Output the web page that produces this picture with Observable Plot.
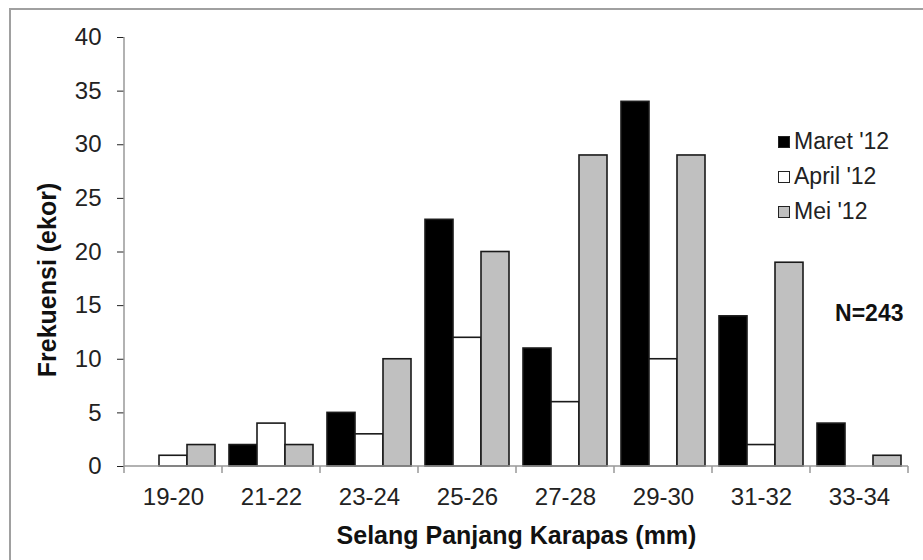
<!DOCTYPE html>
<html>
<head>
<meta charset="utf-8">
<script src="https://cdn.jsdelivr.net/npm/d3@7"></script>
<script src="https://cdn.jsdelivr.net/npm/@observablehq/plot@0.6"></script>
<style>
  html, body { margin: 0; padding: 0; background: #fff; }
  #wrap { position: relative; width: 923px; height: 560px; overflow: hidden;
          font-family: "Liberation Sans", Arial, sans-serif; }
  #border { position: absolute; left: 9px; top: 8px; width: 1000px; height: 1000px;
            border-left: 2px solid #a0a0a0; border-top: 2px solid #a0a0a0; }
  #chart { position: absolute; left: 0; top: 0; }
  #legend { position: absolute; left: 778px; top: 124px; font-size: 23px; color: #222; }
  #legend .row { height: 35px; line-height: 35px; display: flex; align-items: center; }
  #legend .sw { width: 10px; height: 10px; border: 1px solid #222; margin-right: 4px; }
</style>
</head>
<body>
<div id="wrap">
  <div id="border"></div>
  <div id="chart"></div>
  <div id="legend"></div>
</div>
<script>
const categories = ["19-20", "21-22", "23-24", "25-26", "27-28", "29-30", "31-32", "33-34"];
const seriesNames = ["Maret '12", "April '12", "Mei '12"];
const seriesColors = ["#000000", "#ffffff", "#c0c0c0"];
const maret = [0, 2, 5, 23, 11, 34, 14, 4];
const april = [1, 4, 3, 12, 6, 10, 2, 0];
const mei   = [2, 2, 10, 20, 29, 29, 19, 1];
const yTicks = [0, 5, 10, 15, 20, 25, 30, 35, 40];
const yTitle = "Frekuensi (ekor)";
const xTitle = "Selang Panjang Karapas (mm)";
const note = "N=243";

const seriesValues = [maret, april, mei];
const data = categories.flatMap((c, i) =>
  seriesNames.map((s, j) => ({cat: c, series: s, value: seriesValues[j][i]}))
).filter(d => d.value > 0);

const axisColor = "#999";

const chart = Plot.plot({
  width: 923,
  height: 560,
  marginLeft: 123,
  marginRight: 15,
  marginTop: 37,
  marginBottom: 94,
  style: {fontFamily: "'Liberation Sans', Arial, sans-serif", fontSize: "24px", color: "#222", background: "transparent"},
  fx: {domain: categories, padding: 0, axis: "bottom", tickSize: 0, tickPadding: 21, label: null},
  x: {domain: seriesNames, axis: null, paddingInner: 0, paddingOuter: 0.23},
  y: {domain: [0, 40], ticks: yTicks, tickSize: 7, tickPadding: 16, label: null},
  color: {domain: seriesNames, range: seriesColors},
  marks: [
    Plot.barY(data, {fx: "cat", x: "series", y: "value", fill: "series", stroke: "#1a1a1a", strokeWidth: 1.6}),
    Plot.frame({
      facet: "super",
      render: (index, scales, values, dims) => {
        const {fx, y} = scales;
        const g = d3.create("svg:g").attr("stroke", axisColor).attr("stroke-width", 1.5).attr("fill", "none");
        const x0 = dims.marginLeft, x1 = dims.width - dims.marginRight;
        const y0 = y(0);
        g.append("line").attr("x1", x0).attr("x2", x0).attr("y1", y(40)).attr("y2", y0);
        g.append("line").attr("x1", x0).attr("x2", x1).attr("y1", y0).attr("y2", y0);
        const bounds = categories.map(c => fx(c)).concat([fx(categories[categories.length - 1]) + fx.bandwidth()]);
        for (const bx of bounds) {
          g.append("line").attr("x1", bx).attr("x2", bx).attr("y1", y0).attr("y2", y0 + 7);
        }
        return g.node();
      }
    }),
    Plot.text([yTitle], {facet: "super", frameAnchor: "left", rotate: -90, dx: -77, dy: 28,
      textAnchor: "middle", lineAnchor: "middle", fontWeight: "bold", fontSize: 25, fill: "#111"}),
    Plot.text([xTitle], {facet: "super", frameAnchor: "bottom", dy: 69,
      textAnchor: "middle", lineAnchor: "middle", fontWeight: "bold", fontSize: 25, fill: "#111"}),
    Plot.text([note], {facet: "super", frameAnchor: "right", dx: -5, dy: 62,
      lineAnchor: "middle", fontWeight: "bold", fontSize: 23, fill: "#111"})
  ]
});
document.getElementById("chart").appendChild(chart);

const legend = document.getElementById("legend");
seriesNames.forEach((s, i) => {
  const row = document.createElement("div");
  row.className = "row";
  const sw = document.createElement("span");
  sw.className = "sw";
  sw.style.background = seriesColors[i];
  const t = document.createElement("span");
  t.textContent = s;
  row.appendChild(sw);
  row.appendChild(t);
  legend.appendChild(row);
});
</script>
</body>
</html>
